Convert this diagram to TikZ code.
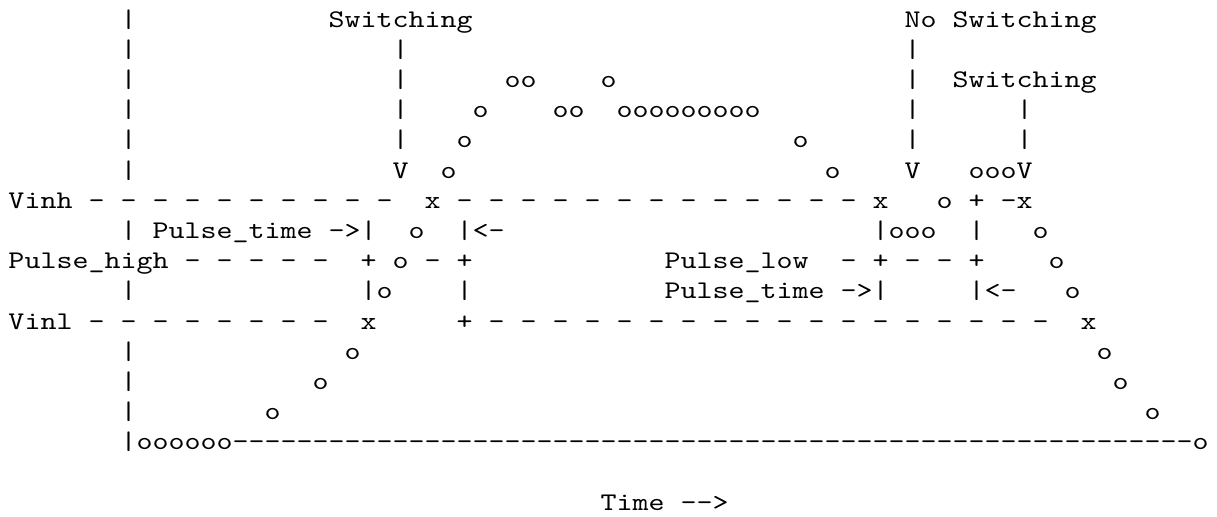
\documentclass[tikz,border=0pt]{standalone}
\usepackage{fontspec}
\newfontfamily\asciifont{lmmono10-regular.otf}[FakeStretch=1.2]
\tikzset{
  asc/.style={anchor=base west, inner sep=0pt, outer sep=0pt,
    font=\asciifont\fontsize{19.05pt}{22.65pt}\selectfont, text=black}
}
\begin{document}
\begin{tikzpicture}[x=12pt,y=-22.65pt]
\fill[white] (-0.53125,-0.89735) rectangle (75.53125,16.2219);
\useasboundingbox (-0.53125,-0.89735) rectangle (75.53125,16.2219);
% axis bars on the left
\foreach \r in {-1,0,1,2,3,4,5,7,9,11,12,13}
  \node[asc] (ax\r) at (7,\r) {|};
% row 0
\node[asc] (sw1) at (20,0) {Switching};
\node[asc] (no)  at (56,0) {No};
\node[asc] (nsw) at (59,0) {Switching};
% pointer bars
\foreach \r in {1,2,3,4} {
  \node[asc] (pa\r) at (24,\r) {|};
  \node[asc] (pb\r) at (56,\r) {|};
}
\foreach \r in {3,4}
  \node[asc] (pc\r) at (63,\r) {|};
\node[asc] (sw2) at (59,2) {Switching};
% curve top
\node[asc] (c2a) at (31,2) {oo};
\node[asc] (c2b) at (37,2) {o};
\node[asc] (c3a) at (29,3) {o};
\node[asc] (c3b) at (34,3) {oo};
\node[asc] (c3c) at (38,3) {ooooooooo};
\node[asc] (c4a) at (28,4) {o};
\node[asc] (c4b) at (49,4) {o};
% row 5
\node[asc] (v1)  at (24,5) {V};
\node[asc] (c5a) at (27,5) {o};
\node[asc] (c5b) at (51,5) {o};
\node[asc] (v2)  at (56,5) {V};
\node[asc] (v3)  at (60,5) {oooV};
% row 6 : Vinh
\node[asc] (vinh) at (0,6) {Vinh};
\foreach \c in {5,7,...,23}
  \node[asc] (h6a\c) at (\c,6) {-};
\node[asc] (x6a) at (26,6) {x};
\foreach \c in {28,30,...,52}
  \node[asc] (h6b\c) at (\c,6) {-};
\node[asc] (x6b) at (54,6) {x};
\node[asc] (c6a) at (58,6) {o};
\node[asc] (p6a) at (60,6) {+};
\node[asc] (x6c) at (62,6) {-x};
% row 7
\node[asc] (pt1) at (9,7) {Pulse\_time};
\node[asc] (ar1) at (20,7) {->|};
\node[asc] (c7a) at (25,7) {o};
\node[asc] (ar2) at (28,7) {|<-};
\node[asc] (c7b) at (54,7) {|ooo};
\node[asc] (b7a) at (60,7) {|};
\node[asc] (c7c) at (64,7) {o};
% row 8 : Pulse_high
\node[asc] (phi) at (0,8) {Pulse\_high};
\foreach \c in {11,13,...,19}
  \node[asc] (h8a\c) at (\c,8) {-};
\node[asc] (p8a) at (22,8) {+};
\node[asc] (c8a) at (24,8) {o};
\node[asc] (h8b) at (26,8) {-};
\node[asc] (p8b) at (28,8) {+};
\node[asc] (plo) at (41,8) {Pulse\_low};
\node[asc] (h8c) at (52,8) {-};
\node[asc] (p8c) at (54,8) {+};
\node[asc] (h8d) at (56,8) {-};
\node[asc] (h8e) at (58,8) {-};
\node[asc] (p8d) at (60,8) {+};
\node[asc] (c8b) at (65,8) {o};
% row 9
\node[asc] (c9a) at (22,9) {|o};
\node[asc] (b9a) at (28,9) {|};
\node[asc] (pt2) at (41,9) {Pulse\_time};
\node[asc] (ar3) at (52,9) {->|};
\node[asc] (ar4) at (60,9) {|<-};
\node[asc] (c9b) at (66,9) {o};
% row 10 : Vinl
\node[asc] (vinl) at (0,10) {Vinl};
\foreach \c in {5,7,...,19}
  \node[asc] (h10a\c) at (\c,10) {-};
\node[asc] (x10a) at (22,10) {x};
\node[asc] (p10a) at (28,10) {+};
\foreach \c in {30,32,...,64}
  \node[asc] (h10b\c) at (\c,10) {-};
\node[asc] (x10b) at (67,10) {x};
% lower curve
\node[asc] (c11a) at (21,11) {o};
\node[asc] (c11b) at (68,11) {o};
\node[asc] (c12a) at (19,12) {o};
\node[asc] (c12b) at (69,12) {o};
\node[asc] (c13a) at (16,13) {o};
\node[asc] (c13b) at (71,13) {o};
% row 14 : time axis
\node[asc] (base) at (7,14) {|oooooo------------------------------------------------------------o};
% row 16
\node[asc] (time) at (37,16) {Time};
\node[asc] (tarr) at (42,16) {-->};
\end{tikzpicture}
\end{document}
